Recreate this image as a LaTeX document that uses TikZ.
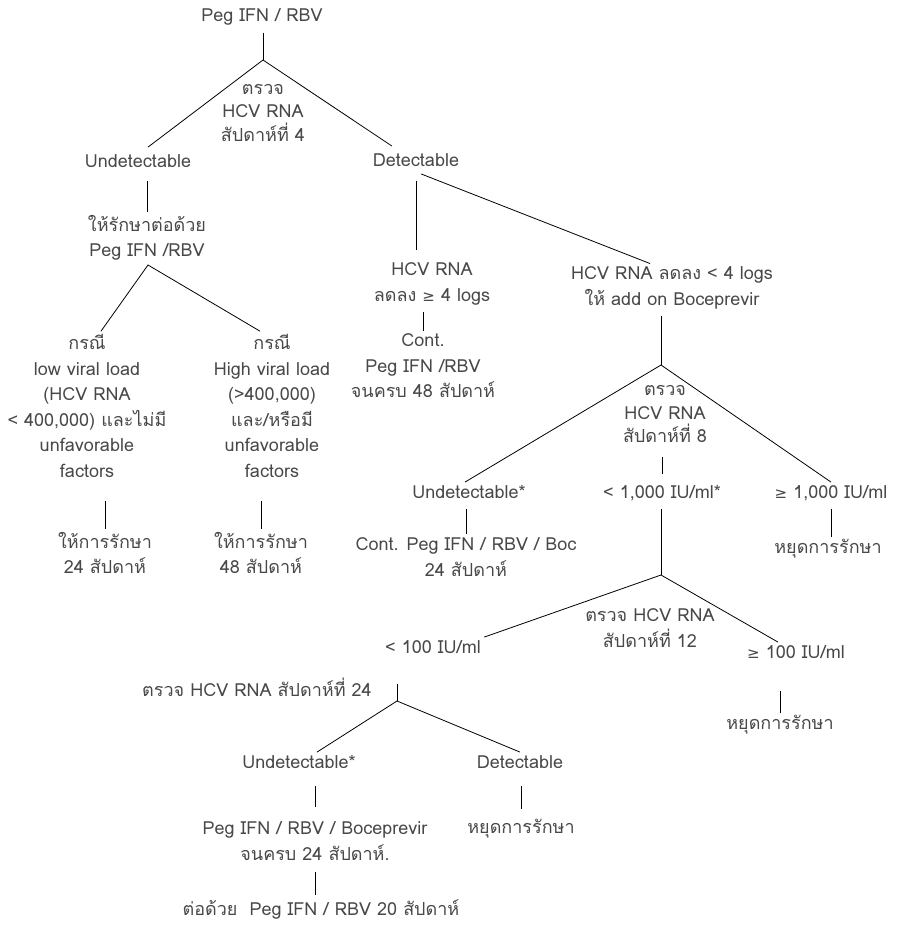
\documentclass[tikz,border=0pt]{standalone}
\usepackage{fontspec}
\setmainfont[Script=Thai]{Loma}
\newfontfamily\dvs{DejaVu Sans}
\newcommand{\geqs}{{\dvs\fontsize{15}{15}\selectfont ≥}}
\definecolor{ink}{RGB}{72,72,72}
\begin{document}
\begin{tikzpicture}[x=1pt,y=-1pt,line width=.8pt,
  every node/.style={font=\fontsize{18}{25.5}\selectfont,text=ink,inner sep=3pt},
  one/.style={text height=13pt,text depth=4pt},
  many/.style={align=center},
  tight/.style={align=center,font=\fontsize{18}{23.5}\selectfont}]
  \useasboundingbox (0,0) rectangle (899,925);
  % week 4
  \node[one] (peg) at (262,17) {Peg IFN / RBV};
  \node[tight] (chk4) at (263,113) {ตรวจ\\HCV RNA\\สัปดาห์ที่ 4};
  \node[one] (undet1) at (138,163) {Undetectable};
  \node[one] (det1) at (416,162) {Detectable};
  \node[many] (cont1) at (147,238) {ให้รักษาต่อด้วย\\Peg IFN /RBV};
  \node[many] (low) at (87,406) {กรณี\\low viral load\\(HCV RNA\\< 400,000) และไม่มี\\unfavorable\\factors};
  \node[many] (high) at (272,406) {กรณี\\High viral load\\(>400,000)\\และ/หรือมี\\unfavorable\\factors};
  \node[many] (tx24) at (105,553) {ให้การรักษา\\24 สัปดาห์};
  \node[many] (tx48) at (261,553) {ให้การรักษา\\48 สัปดาห์};
  \node[many] (drop4) at (432,284) {HCV RNA\\ลดลง \geqs{} 4 logs};
  \node[many] (cont48) at (423,366) {Cont.\\Peg IFN /RBV\\จนครบ 48 สัปดาห์};
  \node[many] (add) at (672,288) {HCV RNA ลดลง < 4 logs\\ให้ add on Boceprevir};
  % week 8
  \node[tight] (chk8) at (665,414) {ตรวจ\\HCV RNA\\สัปดาห์ที่ 8};
  \node[one] (undet8) at (469,494) {Undetectable*};
  \node[one] (lt1000) at (662,494) {< 1,000 IU/ml*};
  \node[one] (ge1000) at (831,494) {\geqs{} 1,000 IU/ml};
  \node[many] (cont24) at (466,557) {Cont. Peg IFN / RBV / Boc\\24 สัปดาห์};
  \node[one] (stop1) at (828,549) {หยุดการรักษา};
  % week 12 and 24
  \node[many] (chk12) at (650,628) {ตรวจ HCV RNA\\สัปดาห์ที่ 12};
  \node[one] (lt100) at (433,649) {< 100 IU/ml};
  \node[one] (ge100) at (796,654) {\geqs{} 100 IU/ml};
  \node[one] (chk24) at (257,692) {ตรวจ HCV RNA สัปดาห์ที่ 24};
  \node[one] (stop2) at (780,725) {หยุดการรักษา};
  \node[one] (undet24) at (299,764) {Undetectable*};
  \node[one] (det24) at (520,764) {Detectable};
  \node[many] (boc24) at (315,841) {Peg IFN / RBV / Boceprevir\\จนครบ 24 สัปดาห์.};
  \node[one] (stop3) at (521,829) {หยุดการรักษา};
  \node[one] (follow) at (321,911) {ต่อด้วย\ \ Peg IFN / RBV 20 สัปดาห์};
  \coordinate (j1) at (263,60);
  \coordinate (j2) at (148,265);
  \coordinate (j3) at (661,365);
  \coordinate (j4) at (661,575);
  \coordinate (j5) at (397,701);
  % branches
  \draw[shorten <=4pt] (peg.south -| j1) -- (j1);
  \draw ([xshift=10pt,yshift=4pt]undet1.north) -- (j1) -- ([xshift=-24pt,yshift=4pt]det1.north);
  \draw[shorten <=6pt] (cont1.north |- undet1.south) -- (cont1.north);
  \draw ([xshift=14pt]low.north) -- (j2) -- ([xshift=-12pt]high.north);
  \draw[shorten <=20pt] (tx24.north |- low.south) -- (tx24.north);
  \draw[shorten <=20pt] (tx48.north |- high.south) -- (tx48.north);
  \draw[shorten <=7pt,shorten >=10pt] (det1.south) -- (det1.south |- drop4.north);
  \draw ([xshift=5pt]det1.south) -- ([xshift=-22pt]add.north);
  \draw[shorten <=4pt] (cont48.north |- drop4.south) -- (cont48.north);
  \draw[shorten <=4pt] (add.south -| j3) -- (j3);
  \draw ([xshift=-4pt]undet8.north) -- (j3) -- (ge1000.north);
  \draw[shorten <=11pt,shorten >=8pt] (lt1000.north |- chk8.south) -- (lt1000.north);
  \draw[shorten <=3pt] (cont24.north |- undet8.south) -- (cont24.north);
  \draw[shorten <=3pt] (ge1000.south) -- (ge1000.south |- stop1.north);
  \draw[shorten <=3pt] (lt1000.south -| j4) -- (j4);
  \draw (lt100.north east) -- (j4) -- ([xshift=-18pt]ge100.north);
  \draw[shorten <=25pt] (stop2.north |- ge100.south) -- (stop2.north);
  \draw[shorten <=23pt] (lt100.south -| j5) -- (j5);
  \draw ([xshift=18pt]undet24.north) -- (j5) -- (det24.north);
  \draw[shorten <=10pt,shorten >=11pt] (boc24.north |- undet24.south) -- (boc24.north);
  \draw[shorten <=10pt,shorten >=8pt] (stop3.north |- det24.south) -- (stop3.north);
  \draw[shorten <=8pt,shorten >=4pt] (boc24.south) -- (boc24.south |- follow.north);
\end{tikzpicture}
\end{document}
